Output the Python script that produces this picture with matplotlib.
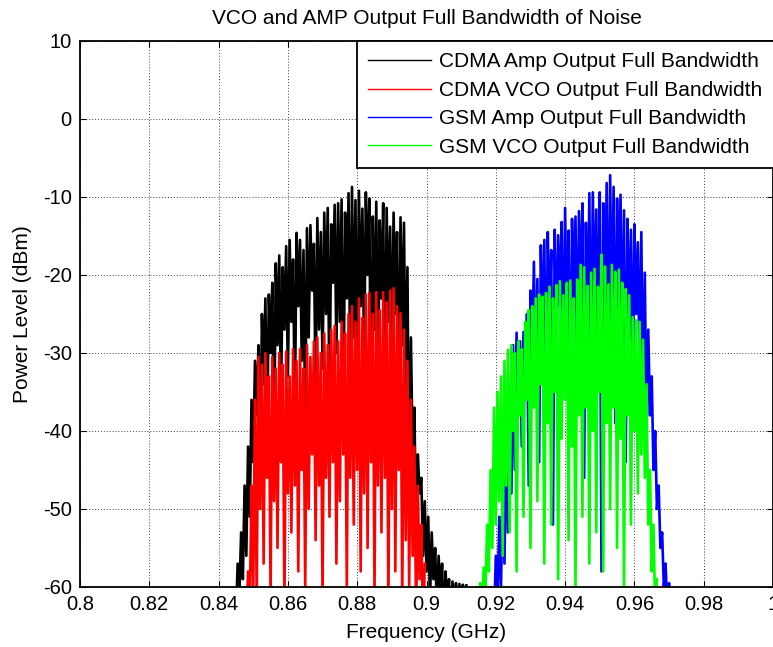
import numpy as np
import matplotlib
matplotlib.use("Agg")
import matplotlib.pyplot as plt

plt.rcParams['font.family'] = ['Liberation Sans', 'DejaVu Sans']
plt.rcParams['axes.unicode_minus'] = False

step = 0.0005  # GHz per sample

# CDMA amp output, first sample at 0.845 GHz
cdma_amp_start = 0.845
cdma_amp = [
    -64, -57, -61, -53, -59, -47, -56, -42, -51, -36,
    -44, -31, -38, -29, -47, -25, -34, -23, -41, -22.5,
    -30, -21, -43, -18.5, -29, -17.5, -36, -19, -27, -16.3,
    -33, -15.5, -26, -18, -38, -14.6, -24, -15.5, -31, -16.8,
    -40, -14, -28, -13.6, -22, -16, -35, -12.7, -27, -14.5,
    -32, -12, -25, -11.4, -37, -13.5, -21, -11, -30, -10.8,
    -26, -10.3, -39, -12, -23, -9.5, -33, -8.7, -28, -10.4,
    -36, -9.2, -24, -11.5, -31, -9.4, -20, -10.2, -42, -12.5,
    -27, -10.6, -34, -13, -23, -10.8, -38, -11.4, -26, -13.8,
    -33, -12, -25, -14.5, -40, -12.6, -29, -13.3, -36, -19,
    -50, -28, -43, -37, -53, -43, -48, -46, -56, -49,
    -58, -51, -62, -53, -59, -55, -63, -56, -61, -57,
    -66, -58, -62, -59, -68, -59.3, -64, -59.5, -70, -59.6,
    -66, -59.7, -72, -59.8,
]

# CDMA VCO output, first sample at 0.848 GHz
cdma_vco_start = 0.848
cdma_vco = [
    -65, -58, -63, -47, -60, -36, -62, -30.5, -50, -31.5,
    -57, -30, -46, -33, -61, -30.5, -49, -32, -55, -30,
    -44, -31.5, -62, -29.8, -48, -33, -53, -29.5, -47, -31,
    -58, -29.5, -45, -32, -60, -29, -50, -30.5, -43, -28.5,
    -54, -28, -47, -30, -62, -27.5, -46, -29, -51, -27,
    -44, -26.5, -57, -28.5, -49, -26, -43, -27.5, -60, -25,
    -46, -24, -52, -26, -45, -23, -58, -25.5, -48, -22.5,
    -55, -22.3, -44, -25, -61, -22.2, -47, -24.5, -53, -22.2,
    -46, -23.5, -63, -22, -50, -21.7, -58, -24, -45, -24.9,
    -62, -27, -54, -31, -60, -36, -56, -42, -64, -47,
    -59, -52, -66, -57,
]

# GSM amp output, first sample at 0.9185 GHz
gsm_amp_start = 0.9185
gsm_amp = [
    -68, -61, -65, -56, -62, -51, -60, -46, -57, -40,
    -53, -34, -48, -29, -45, -27.4, -38, -28.5, -42, -27.3,
    -36, -25, -47, -22, -31, -18.3, -35, -20.5, -44, -16.2,
    -29, -15.5, -38, -14.5, -26, -16.8, -52, -14.2, -30, -14.9,
    -24, -13.2, -35, -11.4, -27, -14.3, -40, -12.8, -25, -12.5,
    -33, -11.8, -23, -10.8, -46, -13.3, -28, -9.5, -36, -9.4,
    -25, -11.6, -31, -9.4, -58, -10.8, -26, -8.2, -34, -7.2,
    -27, -8.7, -39, -10.2, -24, -9.7, -32, -11.7, -44, -12.8,
    -28, -14.2, -36, -13.5, -25, -15.8, -33, -14.5, -38, -19.7,
    -40, -27, -38, -33, -45, -40, -50, -47, -55, -53,
    -60, -57, -63, -59.5, -68, -60.5,
]

# GSM VCO output, first sample at 0.915 GHz
gsm_vco_start = 0.915
gsm_vco = [
    -66, -59.5, -63, -57.5, -61, -52, -58, -45, -55, -37,
    -52, -35, -49, -33, -56, -31, -47, -29.6, -53, -29,
    -40, -30, -58, -28.5, -38, -29.5, -51, -26, -36, -24.5,
    -55, -24, -37, -23, -49, -22.5, -34, -22.8, -57, -22.3,
    -39, -21.5, -52, -23, -35, -21.3, -59, -20.8, -41, -22.6,
    -36, -21, -54, -20.7, -42, -23, -60, -20.6, -38, -18.7,
    -51, -19, -37, -21.4, -57, -19.7, -40, -19.2, -53, -21.5,
    -35, -17.4, -58, -18.9, -39, -21.2, -50, -18.7, -37, -19.6,
    -55, -19.3, -41, -21, -60, -21.8, -38, -22.6, -52, -25.4,
    -40, -25.8, -48, -26, -43, -28.3, -46, -34, -52, -45,
    -58, -52, -63, -59,
]

series = [
    ("CDMA Amp Output Full Bandwidth", cdma_amp_start, cdma_amp, "black"),
    ("CDMA VCO Output Full Bandwidth", cdma_vco_start, cdma_vco, "#ff0000"),
    ("GSM Amp Output Full Bandwidth", gsm_amp_start, gsm_amp, "#0000ff"),
    ("GSM VCO Output Full Bandwidth", gsm_vco_start, gsm_vco, "#00ff00"),
]

fig = plt.figure(figsize=(7.73, 6.47), dpi=100)
ax = fig.add_axes([80 / 773, 60 / 647, 693 / 773, 546 / 647])

for label, f0, vals, color in series:
    freq = f0 + step * np.arange(len(vals))
    ax.plot(freq, vals, color=color, lw=1.9, label=label)

ax.set_xlim(0.8, 1.0)
ax.set_ylim(-60, 10)
ax.set_xticks(np.linspace(0.8, 1.0, 11))
ax.set_xticklabels(["0.8", "0.82", "0.84", "0.86", "0.88", "0.9",
                    "0.92", "0.94", "0.96", "0.98", "1"])
ax.set_yticks(range(-60, 11, 10))
ax.grid(True, color="0.25", linestyle=(0, (1, 2)), lw=0.7)
ax.tick_params(direction="in", top=True, right=True, length=4,
               labelsize=14.5, pad=6)
for sp in ax.spines.values():
    sp.set_linewidth(1.3)

ax.set_title("VCO and AMP Output Full Bandwidth of Noise", fontsize=15, pad=12)
ax.set_xlabel("Frequency (GHz)", fontsize=15, labelpad=6)
ax.set_ylabel("Power Level (dBm)", fontsize=15, labelpad=7.5)

# legend box runs from x=0.863 GHz off past the right edge
leg_x0 = (357 - 80) / 693
leg = ax.legend(loc="upper left", bbox_to_anchor=(leg_x0, 0, 1.1 - leg_x0, 1.0),
                mode="expand", borderaxespad=0, fontsize=15, handlelength=3.0,
                handletextpad=0.4, labelspacing=0.45, borderpad=0.55,
                fancybox=False, framealpha=1, edgecolor="black")
leg.get_frame().set_linewidth(1.3)
for line in leg.get_lines():
    line.set_linewidth(1.0)

fig.savefig("out.png", dpi=100)
